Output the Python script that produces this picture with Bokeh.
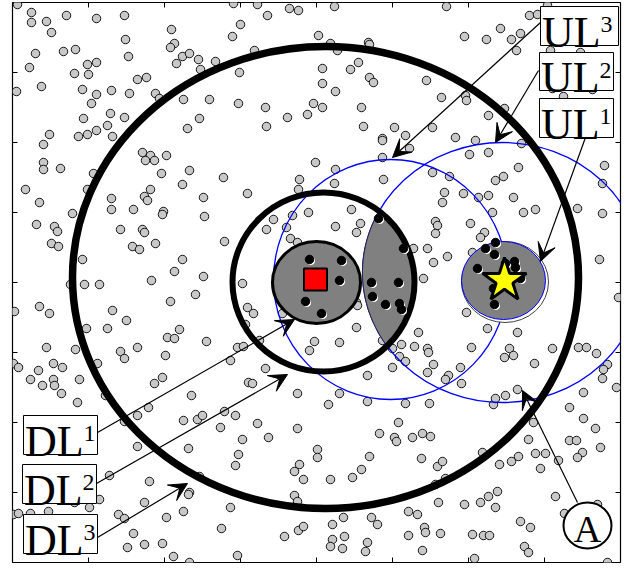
import numpy as np
from bokeh.plotting import figure
from bokeh.models import Range1d, Arrow, VeeHead
from bokeh.core.properties import value
from bokeh.embed import file_html
from bokeh.resources import INLINE

# ---------------- data (field coordinates; y grows downward) ----------------
x_ticks = [12, 88, 164, 240, 316, 392, 468, 544, 620]
y_ticks = [2, 72, 142, 212, 282, 352, 422, 492, 562]

# background nodes (grey)
nodes = [
 (17,4),(31,12),(31,22),(46,21),(51,32),(66,15),(96,18),(124,15),(125,39),(128,56),(171,29),(174,43),
 (170,47),(176,63),(182,56),(189,53),(198,59),(200,69),(35,53),(29,67),(63,51),(75,49),(87,64),(96,62),
 (74,73),(88,74),(41,86),(16,91),(82,89),(96,94),(111,90),(129,93),(137,79),(146,77),(155,93),(159,98),
 (91,103),(110,113),(124,117),(83,118),(107,125),(49,134),(43,144),(78,136),(87,134),(96,130),(112,136),
 (183,99),(199,118),(187,128),(209,99),(142,152),(150,155),(145,160),(154,160),(166,155),(161,173),
 (189,170),(182,184),(43,162),(43,169),(60,168),(93,173),(25,189),(87,189),(150,189),
 (39,202),(36,224),(54,226),(57,231),(51,243),(58,246),(72,213),(82,259),(70,284),(84,284),(99,284),
 (111,198),(111,209),(133,209),(144,196),(147,200),(163,211),(162,214),(203,197),(204,216),(120,229),
 (142,229),(144,232),(155,243),(132,246),(139,249),(182,259),(174,271),(151,280),(203,276),(195,294),
 (170,301),(39,306),(49,313),(14,311),(112,310),(126,320),(86,328),(107,328),(179,329),(167,337),
 (174,338),(206,341),(46,347),(75,349),(120,351),(124,358),(137,347),(165,355),(13,363),(18,367),
 (38,370),(53,363),(62,367),(97,363),(30,379),(53,379),(79,379),(162,377),
 (42,385),(54,385),(61,393),(77,402),(105,395),(154,383),(191,395),(137,415),(148,407),(124,421),
 (183,420),(197,419),(202,415),(188,448),(137,446),(109,475),(149,481),(199,476),(189,492),(188,494),
 (99,499),(89,507),(74,502),(48,511),(13,514),(18,513),(30,513),(144,502),(118,514),(124,518),
 (183,511),(166,517),(133,533),(127,547),(144,544),(162,543),(173,556),(189,562),
 (233,3),(257,4),(289,8),(298,10),(267,15),(334,6),(240,24),(232,36),(318,35),(330,43),(337,50),
 (368,42),(369,44),(254,50),(215,61),(239,72),(322,68),(358,62),(350,69),(369,77),(373,82),(322,83),
 (335,91),(238,103),(265,107),(313,103),(322,107),(307,114),(287,117),(361,107),(266,126),(363,126),
 (394,127),(382,138),(382,140),(405,135),(382,157),(315,162),(335,169),(223,177),(299,179),(334,183),
 (383,179),(298,189),
 (247,193),(224,241),(242,283),(247,307),(253,313),(282,313),(245,324),(237,347),(243,346),(259,340),
 (230,360),(265,368),(273,219),(266,229),(286,227),(292,215),(308,212),(290,238),(297,242),(351,209),
 (335,226),(360,223),(356,232),(333,248),(356,302),(357,305),(356,327),(339,342),(314,341),(309,350),
 (367,375),(382,340),(401,344),(392,348),(399,356),(405,361),(392,367),
 (446,6),(529,15),(537,14),(547,5),(500,28),(464,36),(486,39),(511,39),(520,33),(516,50),(580,52),
 (550,50),(426,80),(441,97),(465,95),(466,100),(504,108),(488,115),(563,96),(552,88),(592,89),
 (432,127),(409,148),(455,137),(475,140),(469,154),(488,152),(521,143),(432,172),(449,176),(518,167),
 (495,180),(503,176),(604,165),(602,183),
 (444,192),(442,202),(463,193),(478,197),(488,195),(513,197),(523,212),(535,209),(492,212),(577,208),
 (602,213),(435,221),(437,225),(435,233),(470,223),(484,232),(480,237),(427,248),(447,256),(433,262),
 (472,252),(423,278),(413,248),(599,259),(618,297),(466,312),(487,328),(517,332),(418,332),(414,346),
 (427,348),(428,352),(471,347),(509,348),(513,355),(504,357),(552,348),(578,347),(586,347),(596,353),
 (607,364),(603,369),(534,363),(433,364),(427,372),(448,375),(460,367),(602,378),
 (248,382),(252,383),(297,393),(339,393),(328,404),(367,401),(405,403),(398,422),(379,433),(394,437),
 (396,441),(412,437),(224,411),(235,415),(257,423),(220,427),(242,439),(268,437),(297,428),(238,454),
 (235,465),(317,449),(317,457),(369,456),(361,469),(352,477),(299,464),(294,471),(303,479),(330,479),
 (294,495),(297,501),(230,507),(221,528),(284,536),(298,530),(303,526),(332,524),(343,517),(371,517),
 (377,524),(344,536),(332,539),(330,546),(342,548),(367,542),(365,551),(237,555),(408,511),(408,535),
 (445,379),(461,383),(429,403),(493,404),(495,398),(505,395),(517,389),(583,392),(616,387),(569,407),
 (583,418),(595,428),(600,447),(569,440),(576,440),(582,452),(577,457),(558,460),(533,422),(528,439),
 (535,453),(545,453),(540,468),(518,456),(511,461),(499,464),(482,452),(422,433),(430,436),(421,458),
 (437,466),(442,461),(435,484),(445,478),(497,491),(488,496),(480,502),(495,507),(464,504),(438,502),
 (417,514),(424,527),(425,532),(440,533),(472,534),(483,535),(489,535),(520,521),(530,527),(524,546),
 (528,552),(422,550),(474,558),(555,496),(564,513),(597,504),(607,562),
]
node_x = [a for a, b in nodes]
node_y = [b for a, b in nodes]

# nodes lying inside the shaded regions (black)
dl1_nodes_x = [309, 341, 339, 305, 321]
dl1_nodes_y = [259, 260, 280, 301, 313]
lens_nodes_x = [378, 403, 371, 398, 372, 385, 399, 401]
lens_nodes_y = [218, 248, 282, 282, 296, 304, 303, 309]
ul1_nodes_x = [495, 485, 494, 477, 505, 514, 515, 520, 493, 494]
ul1_nodes_y = [242, 248, 254, 268, 263, 261, 267, 278, 288, 304]

# circles: centre x, centre y, radius x, radius y
dl1 = (316, 282, 44, 41)
dl2 = (323, 281.5, 91, 89.5)
dl3 = (325, 277, 253, 231)
ul1 = (503, 280, 42, 39)
ul2 = (502, 272, 140, 130)
ul3 = (390, 279, 117, 120)
source = (315, 279)
dest = (504, 280)

# labels: (text, superscript, box left, right, top, bottom)
labels = [
    ("UL", "3", 540, 618, 6, 45),
    ("UL", "2", 539, 613, 52, 90),
    ("UL", "1", 539, 613, 98, 137),
    ("DL", "1", 23, 97, 415, 454),
    ("DL", "2", 22, 96, 464, 503),
    ("DL", "3", 23, 97, 514, 553),
]
# arrows: start -> tip
arrows = [
    (540, 22, 392, 157),
    (538, 70, 495, 142),
    (585, 137, 540, 261),
    (97, 432, 294, 319),
    (96, 483, 287, 374),
    (97, 537, 187, 483),
    (577, 502, 522, 390),
]
a_label = (587, 525)

# ---------------- figure ----------------
p = figure(width=624, height=570, x_range=Range1d(12, 620), y_range=Range1d(562, 2),
           output_backend="svg", toolbar_location=None,
           x_axis_location=None, y_axis_location=None,
           min_border_left=12, min_border_right=4, min_border_top=2, min_border_bottom=8)
p.grid.visible = False
p.outline_line_color = "black"
p.outline_line_width = 1.2
p.background_fill_color = "white"
p.border_fill_color = "white"

# inward tick marks on all four sides
tick_len = 5
inner_x = x_ticks[1:-1]
inner_y = y_ticks[1:-1]
p.segment(x0=inner_x, y0=[y_ticks[0]] * len(inner_x), x1=inner_x, y1=[y_ticks[0] + tick_len] * len(inner_x),
          line_color="black", line_width=1)
p.segment(x0=inner_x, y0=[y_ticks[-1]] * len(inner_x), x1=inner_x, y1=[y_ticks[-1] - tick_len] * len(inner_x),
          line_color="black", line_width=1)
p.segment(x0=[x_ticks[0]] * len(inner_y), y0=inner_y, x1=[x_ticks[0] + tick_len] * len(inner_y), y1=inner_y,
          line_color="black", line_width=1)
p.segment(x0=[x_ticks[-1]] * len(inner_y), y0=inner_y, x1=[x_ticks[-1] - tick_len] * len(inner_y), y1=inner_y,
          line_color="black", line_width=1)

# background nodes
p.scatter(node_x, node_y, size=8.5, fill_color="#c8c8c8", line_color="black", line_width=0.9)

# blue circles
for c in (ul2, ul3):
    p.ellipse(x=[c[0]], y=[c[1]], width=[2 * c[2]], height=[2 * c[3]],
              fill_color=None, line_color="blue", line_width=1.3)

# lens = intersection of DL2 disc and UL2 disc
t = np.linspace(0, 2 * np.pi, 1441)
mx = dl2[0] + dl2[2] * np.cos(t)
my = dl2[1] + dl2[3] * np.sin(t)
bx = ul2[0] + ul2[2] * np.cos(t)
by = ul2[1] + ul2[3] * np.sin(t)
in_b = ((mx - ul2[0]) / ul2[2]) ** 2 + ((my - ul2[1]) / ul2[3]) ** 2 <= 1
in_m = ((bx - dl2[0]) / dl2[2]) ** 2 + ((by - dl2[1]) / dl2[3]) ** 2 <= 1
lx = np.concatenate([mx[in_b], bx[in_m]])
ly = np.concatenate([my[in_b], by[in_m]])
order = np.argsort(np.arctan2(ly - ly.mean(), lx - lx.mean()))
p.patch(lx[order], ly[order], fill_color="#808080", line_color="#202020", line_width=1)

# black rings
p.ellipse(x=[dl3[0]], y=[dl3[1]], width=[2 * dl3[2]], height=[2 * dl3[3]],
          fill_color=None, line_color="black", line_width=7.5)
p.ellipse(x=[dl2[0]], y=[dl2[1]], width=[2 * dl2[2]], height=[2 * dl2[3]],
          fill_color=None, line_color="black", line_width=6)

# DL1 disc
p.ellipse(x=[dl1[0]], y=[dl1[1]], width=[2 * dl1[2]], height=[2 * dl1[3]],
          fill_color="#808080", line_color="black", line_width=3)

# UL1 disc (white rim + grey disc with blue edge)
p.ellipse(x=[ul1[0] + 1.5], y=[ul1[1] + 1.5], width=[2 * ul1[2] + 3], height=[2 * ul1[3] + 3],
          fill_color="white", line_color="#404040", line_width=1)
p.ellipse(x=[ul1[0]], y=[ul1[1]], width=[2 * ul1[2]], height=[2 * ul1[3]],
          fill_color="#808080", line_color="blue", line_width=1)

# black nodes with small white highlight
bx_all = dl1_nodes_x + lens_nodes_x + ul1_nodes_x
by_all = dl1_nodes_y + lens_nodes_y + ul1_nodes_y
p.scatter([v + 1.3 for v in bx_all], [v + 1.3 for v in by_all], size=8.5,
          fill_color="white", line_color=None)
p.scatter(bx_all, by_all, size=8.5, fill_color="black", line_color="black")

# source and destination
p.rect(x=[source[0]], y=[source[1]], width=23, height=22,
       fill_color="red", line_color="black", line_width=2)
p.scatter(x=[dest[0]], y=[dest[1]], marker="star", size=46,
          fill_color="yellow", line_color="black", line_width=3)

# arrows
for xs, ys, xe, ye in arrows:
    p.add_layout(Arrow(end=VeeHead(size=18, fill_color="black", line_color="black", line_width=1),
                       x_start=xs, y_start=ys, x_end=xe, y_end=ye,
                       line_color="black", line_width=1.2))

# label boxes and texts (baseline compensation for the renderer)
serif = value("Liberation Serif")
main_fs, sup_fs = 44, 24
shift = 0.26
for main, sup, l, r, tp, bt in labels:
    p.quad(left=[l], right=[r], top=[tp], bottom=[bt],
           fill_color="white", line_color="black", line_width=1)
    p.text(x=[l + 1.5], y=[bt - 2 - shift * main_fs], text=[main], text_font=serif,
           text_font_size=f"{main_fs}px", text_baseline="alphabetic", text_align="left",
           text_color="black")
    p.text(x=[l + 60], y=[tp + 24 - shift * sup_fs], text=[sup], text_font=serif,
           text_font_size=f"{sup_fs}px", text_baseline="alphabetic", text_align="left",
           text_color="black")

# "A" marker
p.ellipse(x=[a_label[0]], y=[a_label[1]], width=[48], height=[46],
          fill_color="white", line_color="black", line_width=2)
p.text(x=[a_label[0]], y=[a_label[1] + 13 - shift * 38], text=["A"], text_font=serif,
       text_font_size="38px", text_baseline="alphabetic", text_align="center", text_color="black")

open("out.html", "w").write(file_html(p, INLINE))
